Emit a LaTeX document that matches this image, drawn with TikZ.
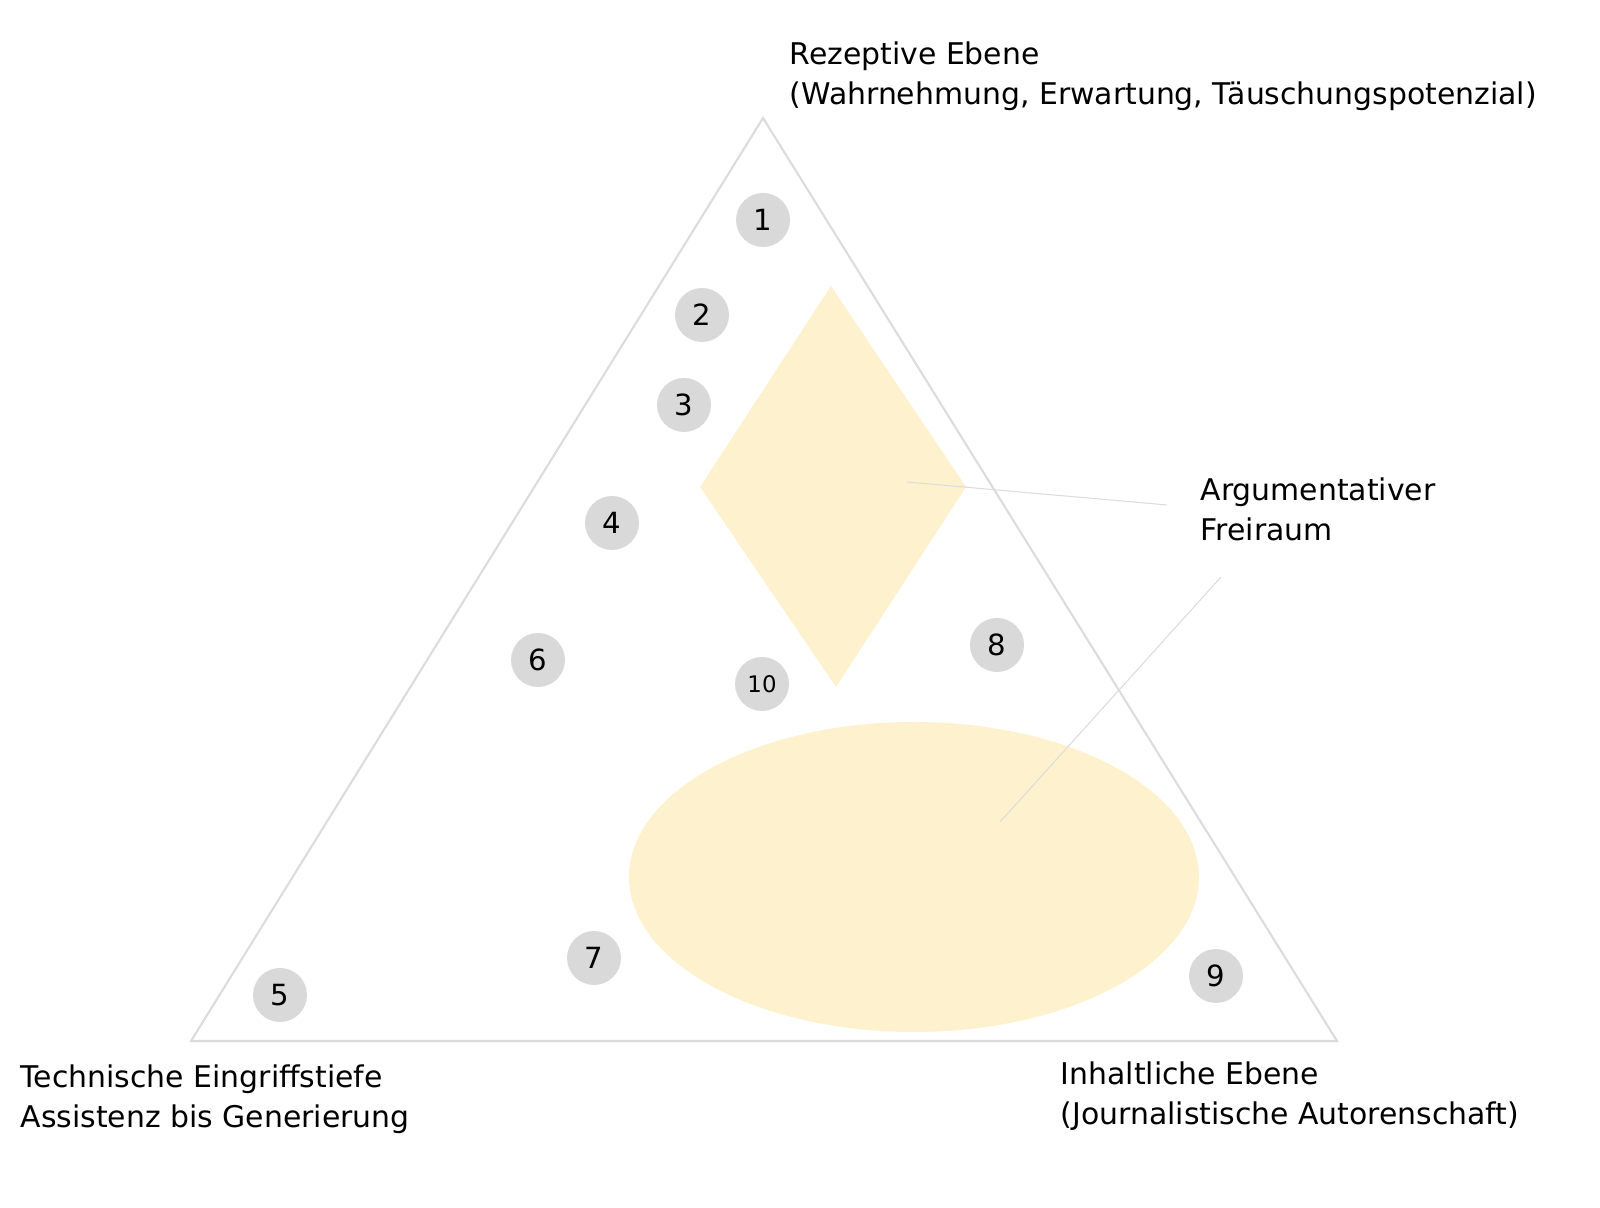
\documentclass[tikz,border=0pt]{standalone}
\usepackage{fontspec}
\setmainfont{DejaVu Sans}
\definecolor{edgegray}{HTML}{DCDCDC}
\definecolor{numgray}{HTML}{D9D9D9}
\definecolor{fieldyellow}{HTML}{FDF1CE}
\begin{document}
\begin{tikzpicture}[
        num/.style = {circle, fill=numgray, minimum size=0.54cm, inner sep=0pt, font=\fontsize{8.3}{10}\selectfont},
        axislabel/.style = {align=left, inner sep=0pt, font=\fontsize{8.5}{11.4}\selectfont},
        leader/.style = {draw=edgegray, line width=0.3pt}
    ]
        \useasboundingbox (0,0) rectangle (16,12.07);
        % Felder
        \fill[fieldyellow] (8.31,9.21) -- (9.66,7.20) -- (8.36,5.20) -- (7.00,7.20) -- cycle;
        \fill[fieldyellow] (9.14,3.30) ellipse (2.85 and 1.55);
        % Dreieck
        \draw[edgegray, line width=0.6pt] (7.63,10.89) -- (13.37,1.66) -- (1.91,1.66) -- cycle;
        % Nummern
        \node[num] (n1) at (7.63,9.87) {1};
        \node[num] (n2) at (7.02,8.92) {2};
        \node[num] (n3) at (6.84,8.02) {3};
        \node[num] (n4) at (6.12,6.84) {4};
        \node[num] (n5) at (2.80,2.12) {5};
        \node[num] (n6) at (5.38,5.47) {6};
        \node[num] (n7) at (5.94,2.49) {7};
        \node[num] (n8) at (9.97,5.62) {8};
        \node[num] (n9) at (12.16,2.31) {9};
        \node[num, font=\fontsize{6.5}{8}\selectfont] (n10) at (7.62,5.23) {10};
        % Beschriftungen
        \node[axislabel, anchor=north west] (rez) at (7.89,11.66) {Rezeptive Ebene\\(Wahrnehmung, Erwartung, T\"auschungspotenzial)};
        \node[axislabel, anchor=north west] (tech) at (0.20,1.43) {Technische Eingriffstiefe\\Assistenz bis Generierung};
        \node[axislabel, anchor=north west] (inh) at (10.60,1.46) {Inhaltliche Ebene\\(Journalistische Autorenschaft)};
        \node[axislabel, anchor=north west] (frei) at (12.00,7.30) {Argumentativer\\Freiraum};
        % Hinweislinien
        \coordinate (raute) at (9.07,7.25);
        \coordinate (raute end) at (11.67,7.02);
        \coordinate (oval) at (10.00,3.85);
        \coordinate (oval end) at (12.21,6.30);
        \draw[leader] (raute) -- (raute end);
        \draw[leader] (oval end) -- (oval);
    \end{tikzpicture}
\end{document}
